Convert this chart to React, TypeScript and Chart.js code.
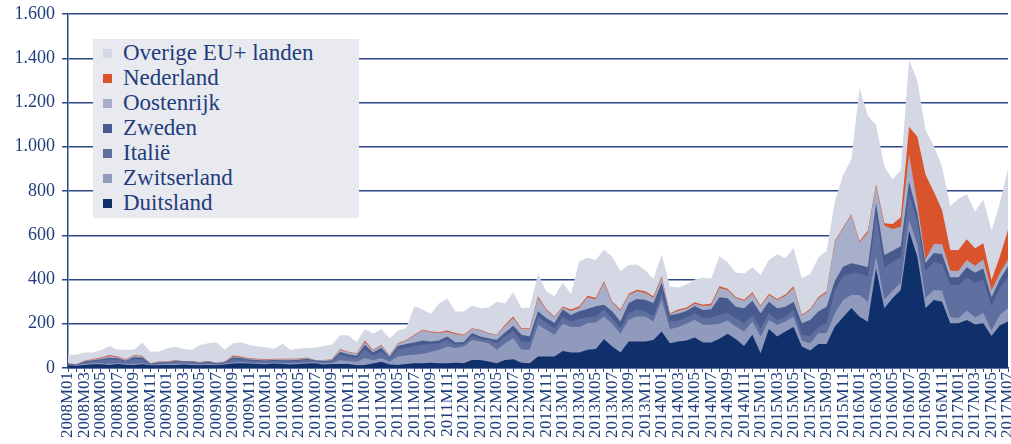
import React, { useEffect, useRef } from "react";
import { Chart, registerables } from "chart.js";

Chart.register(...registerables);

// Categories: monthly, 2008M01 .. 2017M07
const months: string[] = [];
for (let y = 2008; y <= 2017; y++) {
  for (let m = 1; m <= 12; m++) {
    if (y === 2017 && m > 7) break;
    months.push(`${y}M${String(m).padStart(2, "0")}`);
  }
}

const yTicks = [0, 200, 400, 600, 800, 1000, 1200, 1400, 1600];

const duitsland = [
  12, 10, 14, 17, 17, 14, 18, 15, 14, 17, 12, 12, 14, 14, 16, 14, 12, 14, 12, 16, 20, 22, 20, 18, 17, 20, 18, 16, 18, 20, 22, 16, 18,
  18, 18, 12, 14, 20, 28, 16, 14, 18, 21, 21, 24, 21, 21, 24, 21, 36, 36, 29, 21, 36, 39, 24, 21, 52, 52, 52, 77, 70,
  70, 82, 86, 130, 97, 70, 120, 120, 120, 127, 165, 112, 120, 124, 138, 115, 115, 132, 155, 130, 100, 150, 67, 176, 142, 165, 185, 97, 79, 109, 109,
  188, 229, 271, 232, 209, 450, 270, 315, 353, 620, 503, 270, 307, 300, 202, 202, 217, 197, 202, 145, 192, 210,
];
const zwitserland = [
  3, 3, 4, 4, 4, 5, 4, 4, 5, 5, 3, 4, 4, 5, 4, 4, 4, 4, 3, 3, 5, 5, 4, 4, 4, 4, 4, 5, 5, 5, 4, 5, 5,
  17, 14, 16, 31, 15, 17, 12, 38, 40, 39, 43, 48, 61, 76, 66, 76, 91, 84, 83, 61, 76, 96, 58, 61, 143, 121, 98, 123, 115,
  115, 121, 120, 103, 103, 85, 98, 113, 113, 83, 144, 63, 65, 76, 80, 80, 80, 68, 60, 58, 65, 60, 75, 41, 53, 45, 47, 27, 33, 48, 48,
  59, 78, 59, 98, 91, 55, 40, 35, 32, 50, 57, 48, 45, 50, 28, 23, 43, 31, 48, 25, 48, 60,
];
const italie = [
  3, 2, 8, 10, 14, 20, 16, 10, 22, 18, 3, 7, 6, 9, 6, 8, 6, 8, 5, 5, 16, 13, 10, 10, 9, 8, 9, 10, 10, 12, 6, 8, 9,
  25, 20, 17, 40, 23, 30, 14, 33, 34, 40, 41, 36, 30, 31, 15, 11, 18, 12, 13, 30, 30, 35, 38, 36, 35, 32, 30, 32, 25,
  36, 26, 27, 31, 26, 25, 30, 31, 23, 23, 30, 35, 30, 28, 30, 31, 33, 40, 35, 37, 37, 30, 37, 30, 22, 22, 30, 25, 33, 30, 45,
  106, 106, 98, 98, 115, 185, 145, 130, 115, 120, 100, 122, 128, 120, 145, 150, 150, 157, 150, 110, 120, 140,
];
const zweden = [
  1, 1, 3, 4, 5, 7, 6, 4, 8, 7, 1, 3, 2, 4, 3, 3, 2, 3, 2, 2, 6, 5, 4, 4, 4, 4, 4, 4, 4, 5, 2, 3, 3,
  12, 10, 10, 20, 12, 17, 8, 15, 16, 15, 19, 12, 12, 14, 10, 10, 13, 10, 10, 15, 18, 21, 30, 24, 26, 21, 23, 32, 30,
  35, 38, 46, 22, 30, 30, 46, 48, 53, 61, 46, 28, 30, 30, 32, 36, 38, 80, 65, 52, 68, 64, 68, 53, 53, 45, 38, 53, 72, 68, 75,
  40, 45, 45, 38, 40, 55, 55, 50, 50, 53, 40, 35, 40, 45, 35, 35, 45, 45, 50, 40, 40, 50,
];
const oostenrijk = [
  1, 1, 3, 3, 4, 8, 5, 4, 8, 6, 1, 2, 2, 3, 2, 2, 2, 2, 1, 2, 5, 4, 4, 3, 3, 3, 4, 4, 4, 4, 1, 3, 3,
  10, 9, 9, 13, 9, 10, 6, 9, 16, 32, 46, 42, 34, 22, 39, 29, 19, 29, 21, 21, 30, 35, 26, 34, 62, 36, 26, 9, 18,
  16, 53, 32, 99, 40, 49, 36, 35, 31, 24, 23, 6, 14, 10, 10, 18, 18, 42, 37, 39, 34, 32, 31, 30, 37, 49, 62, 35, 45, 60, 64,
  178, 173, 219, 102, 157, 77, 134, 98, 88, 122, 45, 15, 40, 45, 30, 30, 33, 32, 42, 30, 28, 30,
];
const nederland = [
  1, 0, 1, 3, 4, 5, 3, 2, 2, 2, 1, 1, 1, 1, 1, 1, 1, 1, 1, 1, 5, 3, 2, 3, 3, 3, 3, 3, 2, 1, 1, 1, 1,
  4, 3, 3, 6, 3, 3, 3, 3, 3, 3, 3, 3, 4, 6, 4, 3, 3, 2, 2, 2, 5, 7, 4, 4, 6, 5, 4, 5, 6,
  7, 7, 6, 7, 5, 5, 6, 7, 7, 6, 7, 4, 5, 6, 7, 6, 7, 8, 6, 5, 5, 6, 4, 6, 5, 6, 8, 4, 5, 6, 6,
  4, 4, 3, 6, 8, 8, 10, 23, 43, 125, 301, 383, 237, 154, 93, 93, 94, 79, 72, 48, 75, 134,
];
const overige = [
  39, 43, 37, 29, 32, 41, 30, 43, 23, 60, 53, 46, 59, 60, 54, 50, 77, 80, 92, 53, 55, 64, 60, 55, 54, 45, 68, 40, 45, 43, 56, 64, 67,
  62, 74, 51, 52, 73, 71, 76, 56, 53, 129, 91, 80, 129, 144, 97, 105, 102, 97, 115, 150, 96, 109, 91, 93, 102, 80, 91, 107, 71,
  204, 171, 171, 144, 202, 174, 129, 114, 95, 79, 99, 122, 100, 103, 103, 122, 114, 135, 120, 109, 118, 113, 138, 152, 202, 164, 172, 165, 158, 179, 183,
  178, 237, 248, 691, 520, 270, 258, 201, 214, 303, 254, 203, 208, 196, 199, 232, 203, 166, 198, 222, 242, 274,
];

// bottom -> top
const seriesNames = ["Duitsland", "Zwitserland", "Italië", "Zweden", "Oostenrijk", "Nederland", "Overige EU+ landen"];
const seriesData = [duitsland, zwitserland, italie, zweden, oostenrijk, nederland, overige];
const seriesColors = ["#10306c", "#8f9abd", "#5f6f9f", "#475b8e", "#a7aec9", "#d9542c", "#d4d8e4"];

const TEXT = "#1f3d7c";
const GRID = "#2d4887";
const FONT = "'Liberation Serif', 'Times New Roman', serif";

function fmt(v: number): string {
  if (v >= 1000) {
    const th = Math.floor(v / 1000);
    const rest = String(v % 1000).padStart(3, "0");
    return `${th}.${rest}`;
  }
  return String(v);
}

export default function App() {
  const ref = useRef<HTMLCanvasElement>(null);

  useEffect(() => {
    document.body.style.margin = "0";
    const ctx = ref.current!;
    const chart = new Chart(ctx, {
      type: "line",
      data: {
        labels: months,
        datasets: seriesData.map((d, i) => ({
          label: seriesNames[i],
          data: d,
          backgroundColor: seriesColors[i],
          borderColor: seriesColors[i],
          borderWidth: 0,
          pointRadius: 0,
          pointHoverRadius: 0,
          fill: "origin",
          tension: 0,
        })),
      },
      options: {
        responsive: false,
        animation: false,
        devicePixelRatio: 1,
        layout: { autoPadding: false, padding: { left: 0, right: 3, top: 14, bottom: 0 } },
        plugins: { legend: { display: false }, tooltip: { enabled: false } },
        scales: {
          x: {
            type: "category",
            offset: false,
            grid: { display: true, drawOnChartArea: false, drawTicks: true, tickLength: 4, color: GRID, lineWidth: 1 },
            border: { display: true, color: GRID, width: 1.5 },
            ticks: {
              autoSkip: false,
              minRotation: 90,
              maxRotation: 90,
              padding: 0,
              color: TEXT,
              font: { family: FONT, size: 17 },
              callback: (_v: any, i: number) => (i % 2 === 0 ? months[i] : ""),
            },
            afterFit: (s: any) => {
              s.height = 76;
              s.paddingLeft = 0;
              s.paddingRight = 0;
              s.paddingTop = 0;
              s.paddingBottom = 0;
            },
          },
          y: {
            stacked: true,
            min: 0,
            max: 1600,
            afterBuildTicks: (s: any) => {
              s.ticks = yTicks.map((v) => ({ value: v }));
            },
            ticks: {
              color: TEXT,
              padding: 7,
              font: { family: FONT, size: 18 },
              callback: (v: any) => fmt(Number(v)),
            },
            grid: { color: GRID, lineWidth: 1.5, tickLength: 6, drawTicks: true },
            border: { display: true, color: GRID, width: 1.5 },
            afterFit: (s: any) => {
              s.width = 68;
              s.paddingLeft = 0;
              s.paddingRight = 0;
              s.paddingTop = 0;
              s.paddingBottom = 0;
            },
          },
        },
      },
    });
    return () => chart.destroy();
  }, []);

  const legendItems = seriesNames.map((n, i) => ({ name: n, color: seriesColors[i] })).reverse();

  return (
    <div style={{ position: "relative", width: 1011, height: 444, overflow: "hidden" }}>
      <canvas ref={ref} width={1011} height={444} style={{ position: "absolute", left: 0, top: 0, width: 1011, height: 444 }} />
      <div
        style={{
          position: "absolute",
          left: 93,
          top: 39,
          width: 266,
          height: 179,
          background: "#e9eaef",
        }}
      >
        {legendItems.map((it, i) => (
          <div
            key={it.name}
            style={{
              position: "absolute",
              left: 0,
              top: 14 + i * 25 - 13,
              height: 26,
              display: "flex",
              alignItems: "center",
            }}
          >
            <div style={{ width: 9, height: 9, marginLeft: 10, background: it.color }} />
            <div
              style={{
                marginLeft: 11,
                fontFamily: FONT,
                fontSize: 23,
                lineHeight: "26px",
                color: TEXT,
                whiteSpace: "nowrap",
              }}
            >
              {it.name}
            </div>
          </div>
        ))}
      </div>
    </div>
  );
}
